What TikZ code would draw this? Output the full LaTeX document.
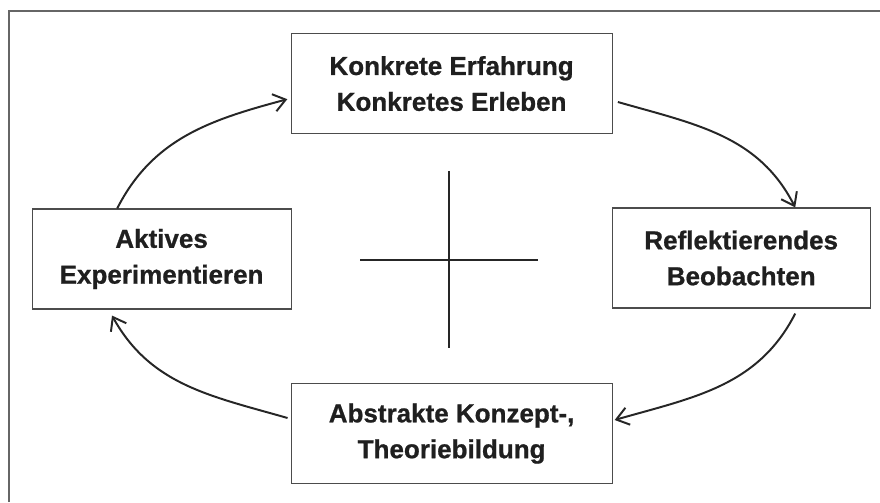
\documentclass[tikz,border=0pt]{standalone}
\usepackage{fontspec}
\setmainfont{Liberation Sans}[BoldFeatures={FakeBold=0.8}]
\usepackage{tikz}
\usetikzlibrary{arrows.meta}

\begin{document}
\begin{tikzpicture}[
  font=\fontsize{18.5}{25.5}\selectfont\bfseries,
  >={Straight Barb[length=3mm,width=4.4mm]},
  phase/.style={draw=black!70, line width=0.8pt, text=black!88, align=center, minimum height=2.5cm, inner sep=0pt},
  frame/.style={draw=black!60, line width=1pt},
  flow/.style={->, line width=1.4pt, draw=black!85},
  cross/.style={line width=1.4pt, draw=black!85},
]
\useasboundingbox (0,0) rectangle (22,12.55);
% ---- outer frame ----
\draw[frame] (0.225,0) |- (22,12.275);

% ---- the four phases ----
\node[phase, minimum width=8.025cm] (konk) at (11.29,10.46) {Konkrete Erfahrung\\Konkretes Erleben};
\node[phase, minimum width=6.45cm]  (refl) at (18.53,6.1)   {Reflektierendes\\Beobachten};
\node[phase, minimum width=8.025cm] (abst) at (11.29,1.71)  {Abstrakte Konzept-,\\Theoriebildung};
\node[phase, minimum width=6.475cm] (akt)  at (4.04,6.075)  {Aktives\\Experimentieren};

% ---- cross in the middle ----
\coordinate (mid) at (11.225,6.05);
\draw[cross] (mid) ++(0,2.225) -- ++(0,-4.425);
\draw[cross] (mid) ++(-2.225,0) -- ++(4.45,0);

% ---- cycle ----
\draw[flow] ([xshift=-1.11cm]akt.north) to[out=63, in=195] ([xshift=-0.08cm, yshift=-0.39cm]konk.west);
\draw[flow] ([xshift=0.13cm, yshift=-0.46cm]konk.east) to[out=-16, in=117] ([xshift=1.35cm]refl.north);
\draw[flow] ([xshift=1.35cm, yshift=-0.125cm]refl.south) to[out=-117, in=16] ([xshift=0.05cm, yshift=0.34cm]abst.east);
\draw[flow] ([xshift=-0.075cm, yshift=0.39cm]abst.west) to[out=164, in=-61] ([xshift=-1.24cm, yshift=-0.15cm]akt.south);
\end{tikzpicture}
\end{document}
